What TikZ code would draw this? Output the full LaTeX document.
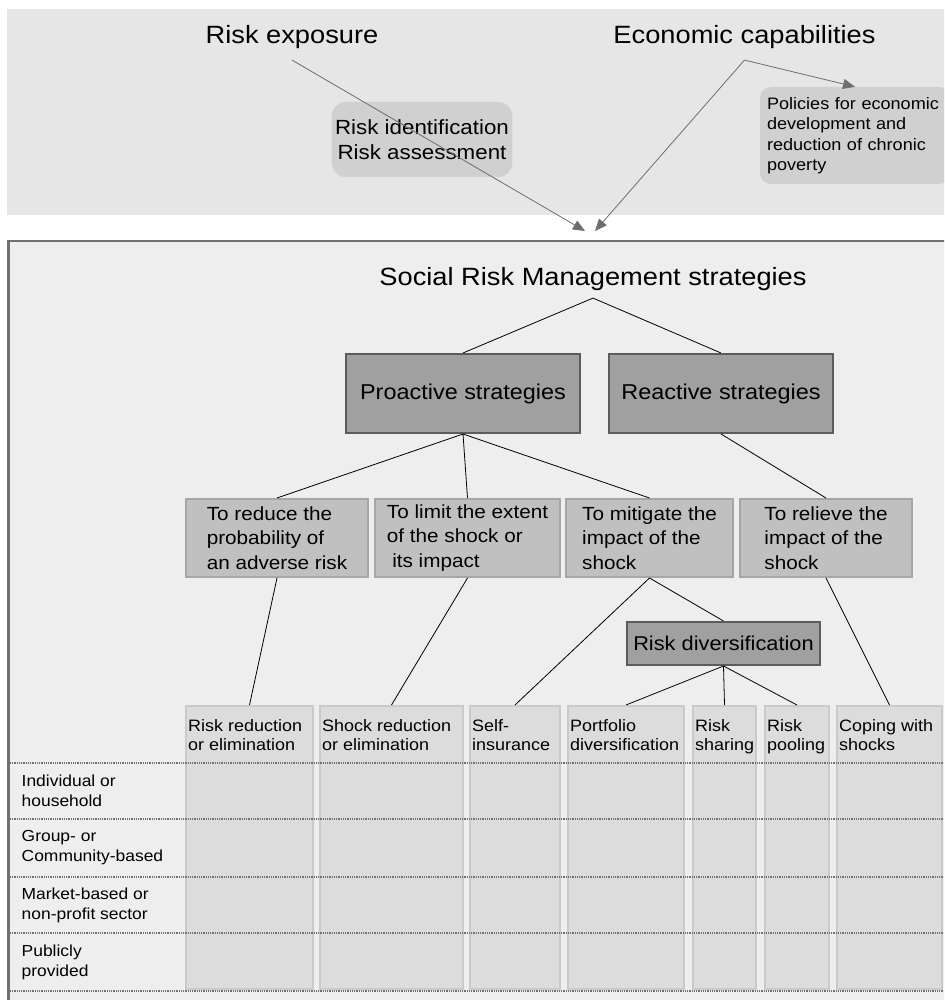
\documentclass[tikz,border=0pt]{standalone}
\usepackage{fontspec}
\setmainfont{Liberation Sans}[FakeStretch=1.09]
\usetikzlibrary{arrows.meta}

\definecolor{topgrey}{HTML}{E6E6E6}
\definecolor{maingrey}{HTML}{EEEEEE}
\definecolor{frameline}{HTML}{707070}
\definecolor{idgrey}{HTML}{D0D0D0}
\definecolor{stratgrey}{HTML}{A0A0A0}
\definecolor{stratline}{HTML}{5C5C5C}
\definecolor{aimgrey}{HTML}{C0C0C0}
\definecolor{aimline}{HTML}{A6A6A6}
\definecolor{colgrey}{HTML}{DCDCDC}
\definecolor{colline}{HTML}{CACACA}
\definecolor{feedgrey}{HTML}{6E6E6E}

\tikzset{
  headtext/.style={font=\fontsize{25}{30}\selectfont, inner xsep=2pt, inner ysep=10.7pt},
  titletext/.style={font=\fontsize{25}{30}\selectfont, inner xsep=2pt, inner ysep=7.7pt},
  idbox/.style={fill=idgrey, rounded corners=14pt, align=center, font=\fontsize{20.5}{25}\selectfont},
  polbox/.style={fill=idgrey, rounded corners=11pt, align=left, text width=176pt, inner xsep=7pt,
    font=\fontsize{16.6}{20.5}\selectfont},
  stratbox/.style={fill=stratgrey, draw=stratline, line width=2pt, minimum height=79pt,
    font=\fontsize{21.5}{26}\selectfont},
  aimbox/.style={fill=aimgrey, draw=aimline, line width=2pt, minimum height=78pt, align=left,
    font=\fontsize{19}{24.5}\selectfont},
  colbox/.style={fill=colgrey, draw=colline, line width=2pt, minimum height=283pt, anchor=north west},
  coltext/.style={anchor=north west, align=left, inner sep=1pt, font=\fontsize{16.5}{19.5}\selectfont},
  rowtext/.style={anchor=west, align=left, inner sep=1pt, font=\fontsize{16}{20}\selectfont},
  rowline/.style={draw=frameline, line width=1.2pt, dash pattern=on 1pt off 0.8pt},
  tree/.style={draw=black, line width=0.8pt},
  feed/.style={draw=feedgrey, line width=0.8pt, -{Triangle[length=12pt,width=10pt]}}
}

\begin{document}
\begin{tikzpicture}[x=1pt,y=-1pt]
	\useasboundingbox (0,0) rectangle (944,1000);
	\clip (0,0) rectangle (944,1000);
	\fill[white] (0,0) rectangle (944,1000);

	% top panel
	\fill[topgrey] (7,9) rectangle (960,215);
	\node[headtext, anchor=base] (exposure) at (292,44) {Risk exposure};
	\node[headtext, anchor=base] (capab) at (744.5,44) {Economic capabilities};
	\node[idbox, minimum width=180pt, minimum height=75pt] (ident) at (422,139.5) {Risk identification\\Risk assessment};
	\node[polbox, minimum height=97pt] (policies) at (855,135.5) {Policies for economic\\development and\\reduction of chronic\\poverty};
	\coordinate (tipA) at (585,231);
	\coordinate (tipB) at (595,231);
	\draw[feed] (exposure.south) -- (tipA);
	\draw[feed] (capab.south) -- (tipB);
	\draw[feed] (capab.south) -- (policies.north);

	% main panel
	\filldraw[fill=maingrey, draw=frameline, line width=2.5pt] (8.5,241) rectangle (970,1020);
	\node[titletext, anchor=base] (srm) at (593,285) {Social Risk Management strategies};
	\node[stratbox, minimum width=234pt] (proactive) at (463,393.5) {Proactive strategies};
	\node[stratbox, minimum width=224pt] (reactive) at (721,393.5) {Reactive strategies};

	\node[aimbox, minimum width=182pt] (aim1) at (277,538) {To reduce the\\probability of\\an adverse risk};
	\node[aimbox, minimum width=185pt] (aim2) at (467.5,538) {To limit the extent\\of the shock or\\\hspace*{.28em}its impact};
	\node[aimbox, minimum width=167pt] (aim3) at (649.5,538) {To mitigate the\\impact of the\\shock};
	\node[aimbox, minimum width=172pt] (aim4) at (826,538) {To relieve the\\impact of the\\shock};
	\node[stratbox, minimum width=193pt, minimum height=43pt, font=\fontsize{20}{24}\selectfont] (divers) at (723.5,643.5) {Risk diversification};

	% columns
	\node[colbox, minimum width=127pt] (col1) at (185,705) {};
	\node[colbox, minimum width=143pt] (col2) at (319,705) {};
	\node[colbox, minimum width=90pt] (col3) at (469,705) {};
	\node[colbox, minimum width=116pt] (col4) at (567,705) {};
	\node[colbox, minimum width=63pt] (col5) at (692,705) {};
	\node[colbox, minimum width=64pt] (col6) at (764,705) {};
	\node[colbox, minimum width=105pt] (col7) at (836,705) {};
	\node[coltext] (head1) at ([xshift=2pt,yshift=-13pt]col1.north west) {Risk reduction\\or elimination};
	\node[coltext] (head2) at ([xshift=2pt,yshift=-13pt]col2.north west) {Shock reduction\\or elimination};
	\node[coltext] (head3) at ([xshift=2pt,yshift=-13pt]col3.north west) {Self-\\insurance};
	\node[coltext] (head4) at ([xshift=2pt,yshift=-13pt]col4.north west) {Portfolio\\diversification};
	\node[coltext] (head5) at ([xshift=2pt,yshift=-13pt]col5.north west) {Risk\\sharing};
	\node[coltext] (head6) at ([xshift=2pt,yshift=-13pt]col6.north west) {Risk\\pooling};
	\node[coltext] (head7) at ([xshift=2pt,yshift=-13pt]col7.north west) {Coping with\\shocks};

	% rows
	\draw[rowline] (10,763) -- (944,763);
	\draw[rowline] (10,819) -- (944,819);
	\draw[rowline] (10,877) -- (944,877);
	\draw[rowline] (10,933) -- (944,933);
	\draw[rowline] (10,991) -- (944,991);
	\node[rowtext] (row1) at (20.5,791) {Individual or\\household};
	\node[rowtext] (row2) at (20.5,848) {Group- or\\Community-based};
	\node[rowtext] (row3) at (20.5,905) {Market-based or\\non-profit sector};
	\node[rowtext] (row4) at (20.5,962) {Publicly\\provided};

	% tree
	\draw[tree] (srm.south) -- (proactive.north);
	\draw[tree] (srm.south) -- (reactive.north);
	\draw[tree] (proactive.south) -- (aim1.north);
	\draw[tree] (proactive.south) -- (aim2.north);
	\draw[tree] (proactive.south) -- (aim3.north);
	\draw[tree] (reactive.south) -- (aim4.north);
	\draw[tree] (aim1.south) -- (col1.north);
	\draw[tree] (aim2.south) -- (col2.north);
	\draw[tree] (aim3.south) -- (col3.north);
	\draw[tree] (aim3.south) -- (divers.north);
	\draw[tree] (divers.south) -- (col4.north);
	\draw[tree] (divers.south) -- (col5.north);
	\draw[tree] (divers.south) -- (col6.north);
	\draw[tree] (aim4.south) -- (col7.north);
\end{tikzpicture}
\end{document}
